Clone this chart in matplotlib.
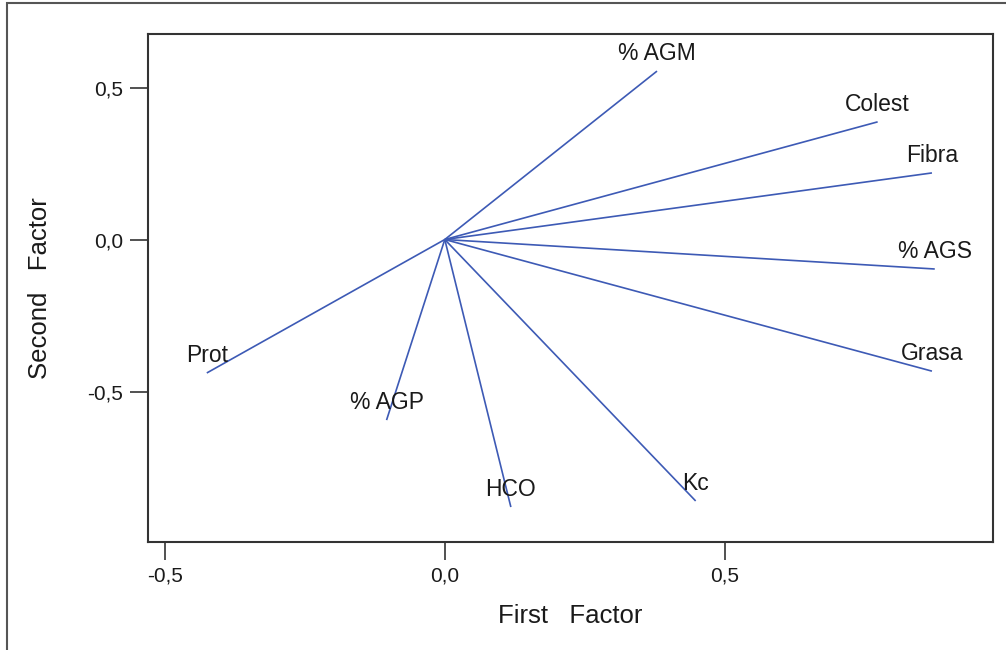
import matplotlib
matplotlib.use("Agg")
import matplotlib.pyplot as plt
from matplotlib.patches import Rectangle

plt.rcParams['font.family'] = ['Liberation Sans', 'DejaVu Sans']

# factor loadings (first factor, second factor)
variables = ['% AGM', 'Colest', 'Fibra', '% AGS', 'Grasa', 'Kc', 'HCO', '% AGP', 'Prot']
first_factor = [0.379, 0.773, 0.870, 0.875, 0.870, 0.448, 0.118, -0.104, -0.425]
second_factor = [0.554, 0.387, 0.219, -0.097, -0.433, -0.860, -0.880, -0.594, -0.439]

tick_vals = [-0.5, 0.0, 0.5]
tick_labels = ['-0,5', '0,0', '0,5']

fig = plt.figure(figsize=(10.06, 6.5), dpi=100)
ax = fig.add_axes([148 / 1006, 1 - 542 / 650, 845 / 1006, 508 / 650])

line_col = '#3d5ab5'
for name, x, y in zip(variables, first_factor, second_factor):
    ax.plot([0, x], [0, y], color=line_col, lw=1.2, solid_capstyle='butt')
    ax.annotate(name, (x, y), xytext=(0, 12.5), textcoords='offset points',
                ha='center', va='center', fontsize=16.5, color='#1a1a1a')

ax.set_xlim(-0.530, 0.979)
ax.set_ylim(-0.995, 0.676)
ax.set_xticks(tick_vals)
ax.set_xticklabels(tick_labels)
ax.set_yticks(tick_vals)
ax.set_yticklabels(tick_labels)
ax.tick_params(length=13, width=1.2, color='#333333', labelsize=15,
               labelcolor='#1a1a1a', pad=5)
for s in ax.spines.values():
    s.set_linewidth(1.5)
    s.set_color('#333333')

ax.set_xlabel('First   Factor', fontsize=18.5, color='#1a1a1a', labelpad=13)
ax.set_ylabel('Second   Factor', fontsize=18.5, color='#1a1a1a', labelpad=25)

# outer frame of the figure
fig.patches.append(Rectangle((7 / 1006, -0.2), 1.5, 1.2 - 3 / 650,
                             transform=fig.transFigure, fill=False,
                             edgecolor='#555555', lw=1.5))

fig.savefig('out.png', dpi=100)
